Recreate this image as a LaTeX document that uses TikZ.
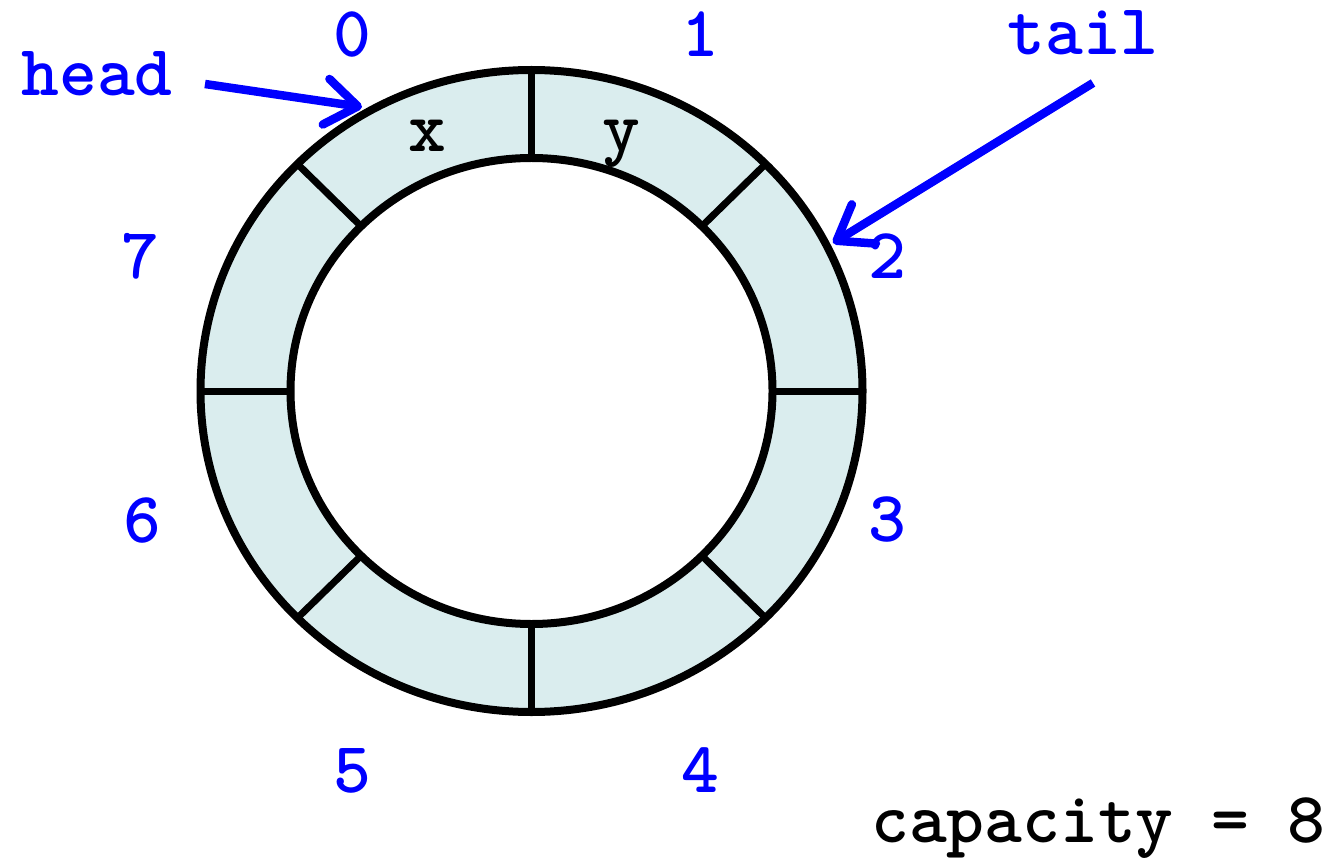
\documentclass[tikz,border=0pt]{standalone}
\usepackage{fontspec}
\usetikzlibrary{arrows.meta,calc}
\definecolor{ringfill}{HTML}{DAEDEE}
\definecolor{lblue}{HTML}{0000FF}
\begin{document}
\begin{tikzpicture}[x=1pt,y=-1pt,
  idx/.style={text=lblue,font=\ttfamily\bfseries\fontsize{72}{72}\selectfont,anchor=base,inner sep=0,text height=0.6em},
  val/.style={text=black,font=\ttfamily\bfseries\fontsize{72}{72}\selectfont,anchor=base,inner sep=0,text height=0.6em},
  ptr/.style={draw=lblue,line width=8.5pt,-{Straight Barb[length=32pt,width=46pt,line width=8.5pt,round]}}]
\useasboundingbox (0,0) rectangle (1337,858);
\coordinate (c) at (531.5,391);
% ring
\fill[ringfill,even odd rule] (c) ellipse [x radius=331,y radius=321] (c) ellipse [x radius=241,y radius=233];
\foreach \a in {0,45,...,315}{
  \draw[line width=7pt] ($(c)+({241*cos(\a)},{233*sin(\a)})$) -- ($(c)+({331*cos(\a)},{321*sin(\a)})$);
}
\draw[line width=8pt] (c) ellipse [x radius=331,y radius=321];
\draw[line width=8pt] (c) ellipse [x radius=241,y radius=233];
% indices
\node[idx] (i0) at (352,57) {0};
\node[idx] (i1) at (700,57) {1};
\node[idx] (i2) at (887,279) {2};
\node[idx] (i3) at (887,541) {3};
\node[idx] (i4) at (700,792) {4};
\node[idx] (i5) at (352,792) {5};
\node[idx] (i6) at (142,542) {6};
\node[idx] (i7) at (140,279) {7};
% values
\node[val] (vx) at (427,152) {x};
\node[val] (vy) at (621,152) {y};
% pointers
\node[idx] (head) at (97,96) {head};
\node[idx] (tail) at (1083,55) {tail};
\coordinate (hs) at (205,84);
\coordinate (ht) at (362,107);
\coordinate (ts) at (1093,83);
\coordinate (tt) at (833,243);
\draw[ptr] (hs) -- (ht);
\draw[ptr] (ts) -- (tt);
\node[val] (cap) at (1098,842) {capacity = 8};
\end{tikzpicture}
\end{document}
